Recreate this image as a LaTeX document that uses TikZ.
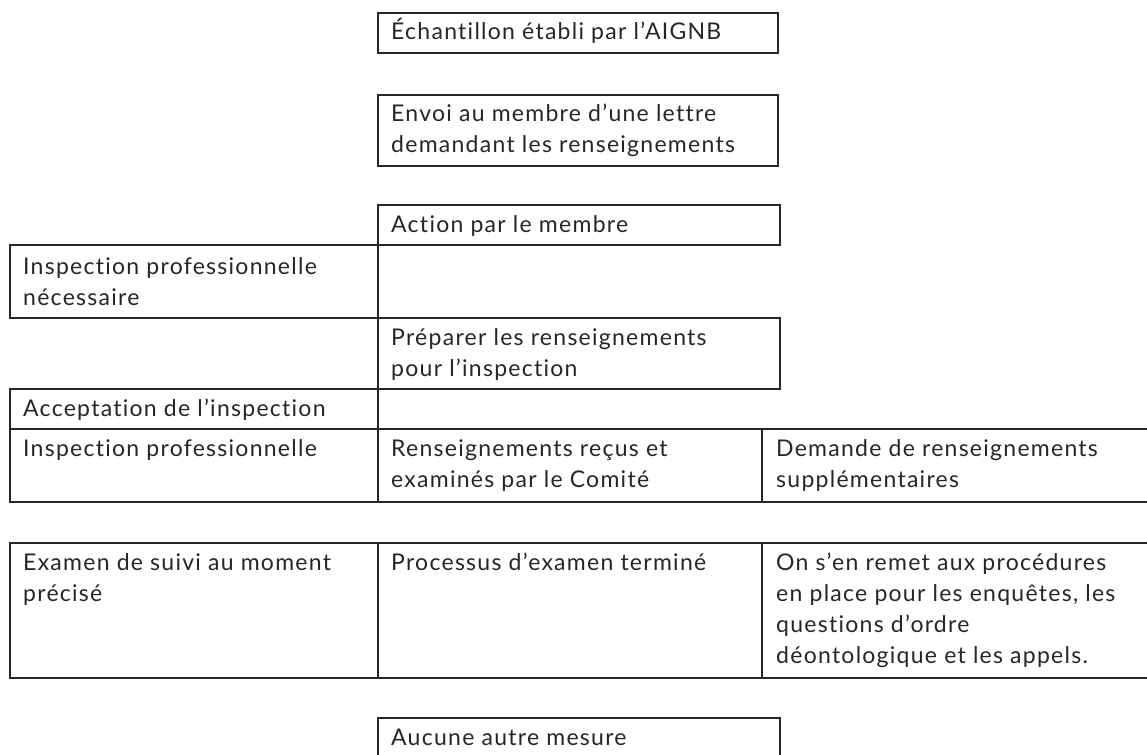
\documentclass[tikz,border=0pt]{standalone}
\usepackage{fontspec}
\setmainfont{Lato}[LetterSpace=5.5, Ligatures={NoCommon,NoRare}]
\tikzset{
  cellbox/.style={draw=black!85, line width=2.4pt},
  celltxt/.style={anchor=base west, inner sep=0pt, text=black!85, font=\fontsize{23}{31}\selectfont},
}
\newcommand{\celltext}[2]{\parbox[t]{#1}{\raggedright #2}}
\begin{document}
\begin{tikzpicture}[x=1pt,y=-1pt]
\useasboundingbox (0,0) rectangle (1147,754);
% boxes
\draw[cellbox] (378,13) rectangle (778,53);
\draw[cellbox] (378,95) rectangle (778,166);
\draw[cellbox] (378,205) rectangle (780,245);
\draw[cellbox] (10,245) rectangle (378,318);
\draw[cellbox] (378,318) rectangle (780,389);
\draw[cellbox] (10,389) rectangle (378,429);
\draw[cellbox] (10,429) rectangle (378,502);
\draw[cellbox] (378,429) rectangle (762,502);
\draw[cellbox] (762,429) rectangle (1152,502);
\draw[cellbox] (10,543) rectangle (378,678);
\draw[cellbox] (378,543) rectangle (762,678);
\draw[cellbox] (762,543) rectangle (1152,678);
\draw[cellbox] (378,718) rectangle (780,762);
% texts
\node[celltxt] (t1) at (391,40) {\celltext{380pt}{Échantillon établi par l’AIGNB}};
\node[celltxt] (t2) at (391,122) {\celltext{380pt}{Envoi au membre d’une lettre\\demandant les renseignements}};
\node[celltxt] (t3) at (391,232) {\celltext{380pt}{Action par le membre}};
\node[celltxt] (t4) at (23,274) {\celltext{350pt}{Inspection professionnelle\\nécessaire}};
\node[celltxt] (t5) at (391,345) {\celltext{380pt}{Préparer les renseignements\\pour l’inspection}};
\node[celltxt] (t6) at (23,416) {\celltext{350pt}{Acceptation de l’inspection}};
\node[celltxt] (t7) at (23,456) {\celltext{350pt}{Inspection professionnelle}};
\node[celltxt] (t8) at (391,456) {\celltext{360pt}{Renseignements reçus et\\examinés par le Comité}};
\node[celltxt] (t9) at (776,456) {\celltext{370pt}{Demande de renseignements\\supplémentaires}};
\node[celltxt] (t10) at (23,570) {\celltext{350pt}{Examen de suivi au moment\\précisé}};
\node[celltxt] (t11) at (391,570) {\celltext{360pt}{Processus d’examen terminé}};
\node[celltxt] (t12) at (776,570) {\celltext{370pt}{On s’en remet aux procédures\\en place pour les enquêtes, les\\questions d’ordre\\déontologique et les appels.}};
\node[celltxt] (t13) at (391,745) {\celltext{380pt}{Aucune autre mesure}};
\end{tikzpicture}
\end{document}
